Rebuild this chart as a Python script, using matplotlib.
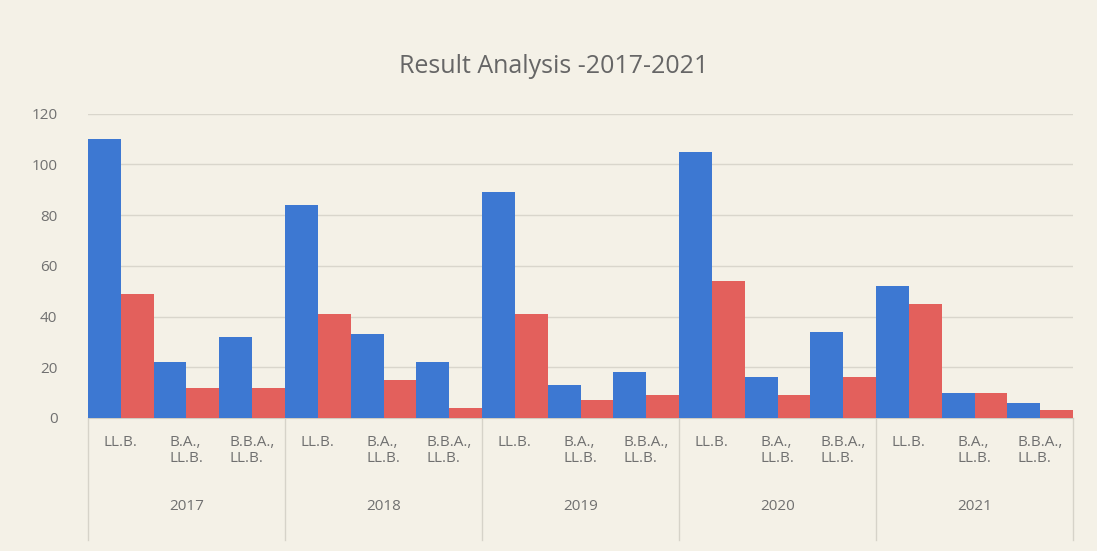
import matplotlib
matplotlib.use("Agg")
import matplotlib.pyplot as plt
import matplotlib.transforms as mtransforms
import numpy as np

years = ["2017", "2018", "2019", "2020", "2021"]
programs = ["LL.B.", "B.A.,\nLL.B.", "B.B.A.,\nLL.B."]
series_blue = [110, 22, 32, 84, 33, 22, 89, 13, 18, 105, 16, 34, 52, 10, 6]
series_red = [49, 12, 12, 41, 15, 4, 41, 7, 9, 54, 9, 16, 45, 10, 3]
yticks = [0, 20, 40, 60, 80, 100, 120]
title = "Result Analysis -2017-2021"

blue = "#3d78d2"
red = "#e3605c"
bg = "#f4f1e7"
txt = "#707070"

plt.rcParams['font.family'] = ['Open Sans', 'DejaVu Sans']

fig = plt.figure(figsize=(10.97, 5.51), dpi=100, facecolor=bg)
ax = fig.add_axes([0.0802, 0.2414, 0.898, 0.5524], facecolor=bg)

n = len(series_blue)
x = np.arange(n)
w = 0.5
ax.bar(x - w / 2, series_blue, width=w, color=blue, zorder=3)
ax.bar(x + w / 2, series_red, width=w, color=red, zorder=3)

ax.set_xlim(-0.5, n - 0.5)
ax.set_ylim(0, 120)
ax.set_yticks(yticks)
ax.yaxis.grid(True, color="#d9d6cc", linewidth=1.0, zorder=0)
for s in ["top", "right", "left"]:
    ax.spines[s].set_visible(False)
ax.spines["bottom"].set_color("#cfccc2")
ax.tick_params(axis="y", length=0, pad=22, labelsize=11, labelcolor=txt)

labels = [programs[i % 3] for i in range(n)]
ax.set_xticks(x)
ax.set_xticklabels(labels, fontsize=11, color=txt, va="top", ha="center",
                   multialignment="left", linespacing=1.15)
ax.tick_params(axis="x", length=0, pad=12)

trans = mtransforms.blended_transform_factory(ax.transData, ax.transAxes)
sep_color = "#d6d3c9"
# year separators
for b in range(0, n + 1, 3):
    xb = b - 0.5
    ax.plot([xb, xb], [0, -0.4], transform=trans, color=sep_color,
            linewidth=1, clip_on=False)

for i, yr in enumerate(years):
    ax.text(3 * i + 1, -0.29, yr, transform=trans, ha="center", va="center",
            fontsize=11, color=txt)

fig.text(0.505, 0.88, title, ha="center", va="center", fontsize=18, color="#666666")

fig.savefig("out.png", dpi=100, facecolor=bg)
